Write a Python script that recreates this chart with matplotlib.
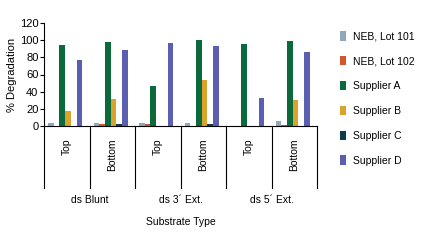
import numpy as np
import matplotlib.pyplot as plt

plt.rcParams['font.family'] = ['Liberation Sans', 'DejaVu Sans']

# data
positions = ['Top', 'Bottom', 'Top', 'Bottom', 'Top', 'Bottom']
substrates = ['ds Blunt', 'ds 3\u00b4 Ext.', 'ds 5\u00b4 Ext.']
series = ['NEB, Lot 101', 'NEB, Lot 102', 'Supplier A', 'Supplier B', 'Supplier C', 'Supplier D']
neb101 = [4, 3, 3, 3, 0, 6]
neb102 = [0.5, 2, 2, 0, 0, 1.5]
supp_a = [94, 98, 47, 100, 96, 99]
supp_b = [17, 32, 0, 54, 0, 30]
supp_c = [0, 2, 0, 2, 0, 0]
supp_d = [77, 88, 97, 93, 33, 86]
colors = ['#8fa9ba', '#d5562a', '#0a6a3c', '#d8a42c', '#0e3a4c', '#5b5fb1']

values = [neb101, neb102, supp_a, supp_b, supp_c, supp_d]

fig = plt.figure(figsize=(4.26, 2.42), dpi=100)
ax = fig.add_axes([44/426, 1 - 126/242, (317-44)/426, (126-23)/242])

x = np.arange(len(positions))
w = 0.125
for i, (vals, name, c) in enumerate(zip(values, series, colors)):
    ax.bar(x - 0.41 + w*i + w/2, vals, width=w, color=c, label=name)

ax.set_xlim(-0.5, len(positions) - 0.5)
ax.set_ylim(0, 120)
ax.set_yticks(range(0, 121, 20))
ax.tick_params(axis='y', labelsize=8, length=3, width=0.8, pad=1)
ax.set_ylabel('% Degradation', fontsize=8, labelpad=2)
ax.set_xticks([])
for s in ['top', 'right']:
    ax.spines[s].set_visible(False)
ax.spines['left'].set_linewidth(0.8)
ax.spines['bottom'].set_linewidth(0.8)

# group separator lines and labels below the axis
trans = ax.get_xaxis_transform()
for b in np.arange(-0.5, len(positions), 1.0):
    ax.plot([b, b], [0, -0.6], color='black', lw=0.8, transform=trans, clip_on=False)
for xi, p in zip(x, positions):
    ax.text(xi, -0.12, p, rotation=90, ha='center', va='top', fontsize=7.5, transform=trans)
for k, sname in enumerate(substrates):
    ax.text(2*k + 0.5, -0.72, sname, ha='center', va='center', fontsize=7.5, transform=trans)
ax.text(2.5, -0.93, 'Substrate Type', ha='center', va='center', fontsize=7.5, transform=trans)

ax.legend(loc='upper left', bbox_to_anchor=(1.05, 1.01), frameon=False, fontsize=7.5,
          handlelength=0.6, handleheight=1.0, labelspacing=1.4, handletextpad=0.6)

fig.savefig('out.png', dpi=100)
